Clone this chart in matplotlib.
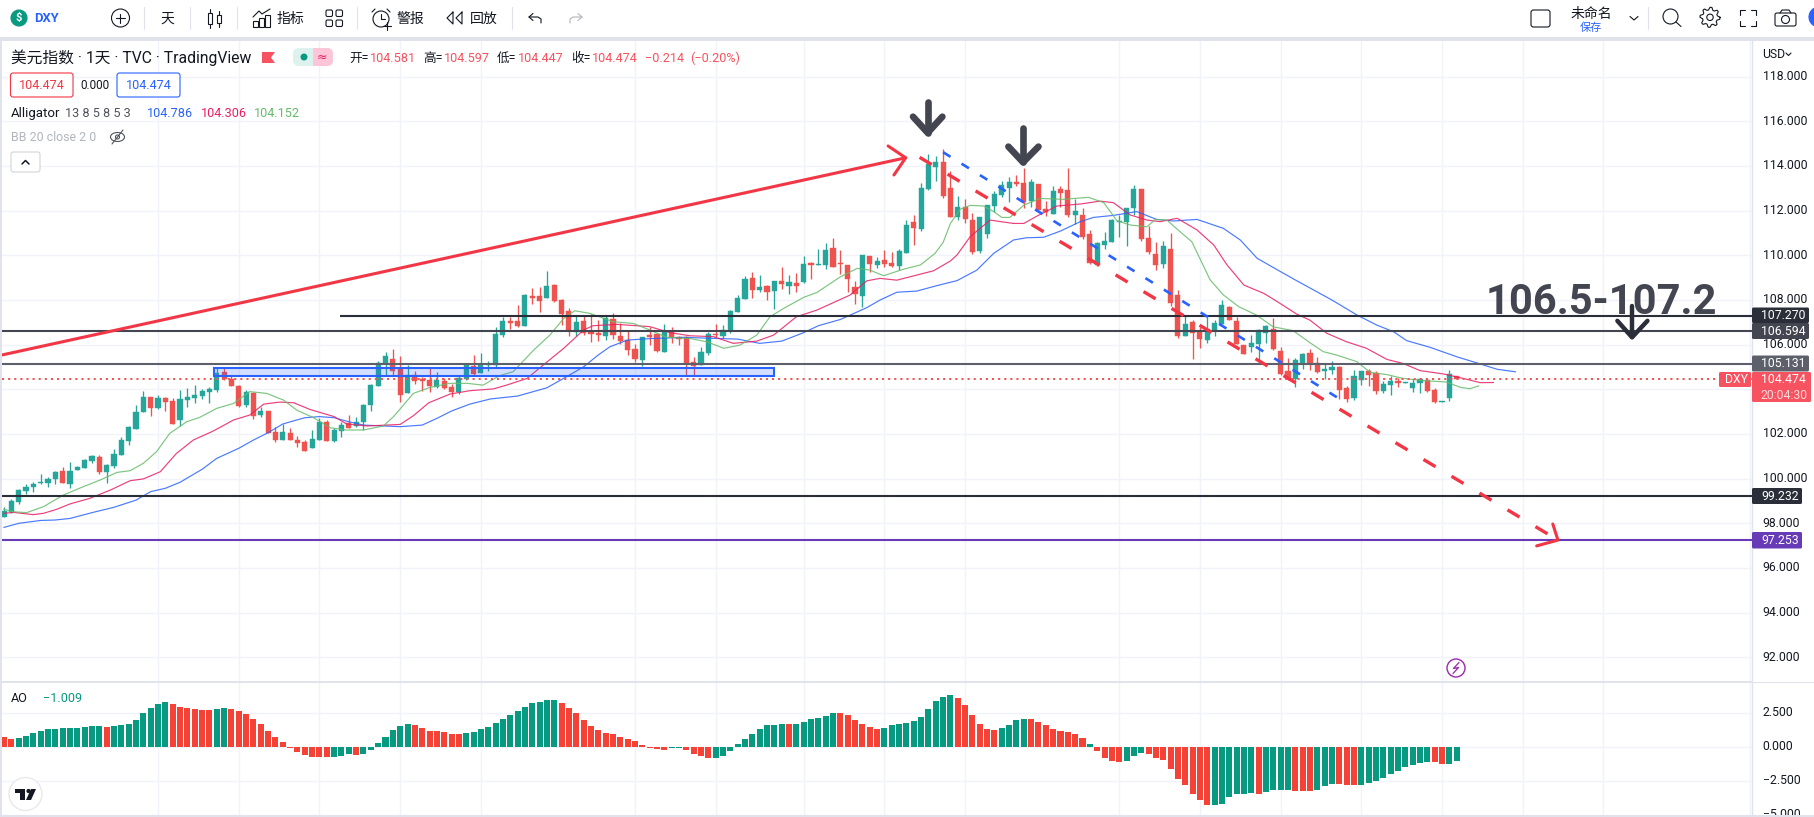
import numpy as np
import matplotlib
matplotlib.use('Agg')
import matplotlib.pyplot as plt
from matplotlib.patches import Circle, Ellipse, FancyBboxPatch, Polygon, Rectangle
from matplotlib.transforms import ScaledTranslation

plt.rcParams['font.family'] = ['Roboto', 'Noto Sans CJK SC', 'DejaVu Sans']
plt.rcParams['lines.scale_dashes'] = False

# daily DXY candles, oldest first
opens = [
    98.30, 98.49, 98.97, 99.46, 99.64, 99.81, 99.81, 99.99, 100.33, 99.76,
    100.40, 100.49, 100.79, 100.97, 100.31, 100.58, 101.07, 101.70, 102.24, 103.00,
    103.66, 103.18, 103.61, 103.48, 102.64, 103.54, 103.61, 103.70, 103.90, 103.97,
    104.78, 104.46, 104.15, 103.30, 103.84, 102.85, 103.03, 102.09, 101.73, 102.03,
    101.73, 101.64, 101.37, 101.73, 102.54, 101.69, 102.13, 102.48, 102.36, 102.54,
    103.30, 104.15, 105.13, 105.36, 104.91, 103.84, 104.64, 104.48, 104.42, 104.12,
    104.37, 104.12, 103.88, 104.46, 105.04, 104.73, 105.07, 105.09, 106.43, 107.06,
    107.06, 106.83, 108.18, 108.18, 108.09, 108.67, 108.00, 107.51, 106.57, 107.06,
    106.57, 106.52, 106.39, 107.15, 106.39, 106.21, 105.81, 105.31, 106.43, 106.48,
    105.67, 106.61, 106.34, 106.34, 105.22, 105.09, 105.63, 106.48, 106.39, 106.61,
    107.46, 108.04, 108.98, 108.45, 108.63, 108.40, 108.85, 108.63, 108.76, 108.81,
    109.66, 109.57, 109.57, 110.33, 109.64, 109.57, 108.58, 108.18, 109.97, 109.57,
    109.79, 109.66, 109.52, 110.11, 111.49, 111.18, 112.97, 113.96, 114.18, 113.02,
    111.72, 112.17, 111.58, 110.20, 110.96, 112.21, 112.70, 113.02, 113.28, 113.24,
    112.43, 113.19, 112.07, 111.85, 112.97, 112.93, 111.81, 111.81, 110.96, 109.57,
    110.46, 110.60, 111.49, 111.49, 112.12, 112.97, 110.78, 110.06, 109.61, 110.28,
    108.22, 106.39, 107.02, 106.61, 106.21, 106.66, 106.93, 107.69, 107.06, 105.99,
    105.90, 106.03, 106.52, 106.70, 105.72, 104.82, 104.46, 105.13, 105.63, 105.18,
    104.82, 104.87, 105.00, 104.06, 103.61, 104.42, 104.82, 104.73, 103.93, 104.19,
    104.37, 104.30, 104.06, 104.28, 104.42, 103.97, 103.45, 103.61, 104.581,
]
highs = [
    98.72, 99.07, 99.52, 99.76, 99.85, 100.21, 100.09, 100.36, 100.51, 100.75,
    100.57, 100.90, 101.04, 101.06, 100.66, 101.33, 101.85, 102.36, 103.30, 103.93,
    103.66, 103.75, 103.64, 103.60, 103.97, 104.04, 104.19, 104.00, 104.10, 104.94,
    105.01, 104.64, 104.19, 103.97, 103.88, 103.22, 103.03, 102.33, 102.43, 102.27,
    101.91, 101.73, 102.18, 102.72, 102.63, 102.25, 102.54, 102.85, 102.76, 103.34,
    104.22, 105.27, 105.67, 105.81, 105.49, 105.09, 104.82, 104.54, 104.96, 104.78,
    104.51, 104.24, 104.60, 105.13, 105.54, 105.63, 105.27, 106.78, 107.25, 107.25,
    107.78, 108.27, 108.54, 108.58, 109.30, 108.72, 108.03, 107.64, 107.28, 107.33,
    107.37, 107.10, 107.28, 107.42, 106.97, 106.66, 106.03, 106.34, 106.79, 106.52,
    106.92, 106.79, 106.39, 106.39, 105.45, 105.90, 106.58, 106.92, 106.88, 107.55,
    108.22, 109.07, 109.25, 109.12, 108.67, 108.85, 109.48, 109.12, 109.21, 109.97,
    109.70, 110.29, 110.55, 110.78, 110.24, 109.57, 108.84, 110.02, 109.97, 109.93,
    110.24, 110.15, 110.29, 111.58, 111.81, 113.23, 114.54, 114.45, 114.76, 113.78,
    112.66, 112.52, 111.90, 111.72, 112.26, 112.88, 113.33, 113.51, 113.60, 113.91,
    113.42, 113.19, 112.43, 113.11, 113.11, 113.91, 112.52, 112.12, 111.14, 110.60,
    111.05, 111.63, 111.81, 112.12, 113.15, 112.97, 111.31, 110.60, 110.64, 111.00,
    108.45, 107.28, 107.11, 106.79, 107.24, 107.11, 108.00, 107.73, 107.24, 105.99,
    106.43, 106.70, 106.88, 107.19, 105.90, 105.40, 105.40, 105.63, 105.81, 105.45,
    105.13, 105.27, 105.04, 104.15, 104.87, 104.82, 104.91, 104.82, 104.37, 104.60,
    104.51, 104.33, 104.46, 104.51, 104.46, 104.06, 103.48, 104.87, 104.597,
]
lows = [
    98.30, 98.45, 98.87, 99.31, 99.42, 99.76, 99.64, 99.76, 99.82, 99.60,
    100.39, 100.46, 100.72, 100.21, 99.82, 100.49, 101.07, 101.51, 102.24, 103.00,
    102.82, 103.13, 103.03, 102.46, 102.36, 103.22, 103.37, 103.58, 103.40, 103.90,
    104.42, 104.15, 103.22, 103.22, 102.69, 102.75, 102.03, 101.64, 101.73, 101.73,
    101.42, 101.24, 101.37, 101.73, 101.69, 101.64, 101.88, 102.27, 102.33, 102.18,
    103.04, 104.15, 104.64, 104.64, 103.45, 103.84, 104.24, 103.94, 103.88, 104.06,
    104.00, 103.67, 103.79, 104.42, 104.64, 104.73, 104.84, 105.01, 106.34, 106.70,
    106.79, 106.83, 107.82, 107.46, 108.09, 107.91, 106.88, 106.39, 106.39, 106.43,
    106.12, 106.16, 106.21, 106.25, 106.03, 105.54, 105.22, 105.04, 105.98, 105.67,
    105.67, 106.07, 105.98, 104.64, 104.64, 105.09, 105.54, 106.34, 106.30, 106.52,
    107.46, 108.04, 108.09, 108.36, 108.00, 107.60, 108.49, 108.27, 108.36, 108.76,
    108.94, 109.57, 109.39, 109.48, 109.17, 108.36, 107.82, 107.69, 109.26, 109.43,
    109.48, 109.48, 109.35, 110.11, 110.46, 111.09, 112.93, 113.33, 112.57, 111.72,
    111.58, 111.45, 110.06, 110.11, 110.78, 111.94, 112.61, 112.39, 113.11, 112.12,
    112.16, 111.99, 111.76, 111.85, 112.16, 111.72, 111.40, 110.73, 109.61, 109.52,
    110.28, 110.60, 110.82, 110.42, 111.81, 110.64, 110.06, 109.34, 109.43, 107.73,
    106.30, 106.39, 105.36, 105.85, 106.08, 106.39, 106.93, 107.11, 106.03, 105.58,
    105.67, 105.31, 106.07, 105.76, 104.64, 104.42, 104.10, 104.91, 104.87, 104.73,
    104.46, 104.69, 103.57, 103.43, 103.52, 104.19, 104.15, 103.79, 103.84, 103.75,
    104.10, 104.30, 103.88, 103.84, 103.88, 103.39, 103.45, 103.48, 104.447,
]
closes = [
    98.55, 99.00, 99.49, 99.61, 99.76, 99.84, 99.99, 100.30, 99.82, 100.34,
    100.52, 100.84, 101.01, 100.31, 100.61, 101.10, 101.73, 102.31, 102.99, 103.66,
    103.18, 103.61, 103.45, 102.46, 103.57, 103.66, 103.75, 103.93, 104.01, 104.72,
    104.45, 104.16, 103.25, 103.88, 102.82, 103.03, 102.06, 101.73, 102.09, 101.73,
    101.60, 101.24, 101.78, 102.54, 101.69, 102.18, 102.40, 102.27, 102.54, 103.30,
    104.19, 105.16, 105.49, 104.82, 103.75, 104.64, 104.37, 104.37, 104.15, 104.42,
    104.06, 103.88, 104.49, 105.09, 104.69, 105.13, 105.10, 106.48, 107.06, 106.98,
    106.83, 108.22, 108.09, 107.95, 108.63, 107.95, 107.37, 106.66, 107.01, 106.52,
    106.48, 106.43, 107.19, 106.43, 106.16, 105.76, 105.36, 106.34, 106.34, 105.72,
    106.57, 106.34, 106.25, 105.13, 105.04, 105.67, 106.48, 106.43, 106.66, 107.51,
    108.09, 108.94, 108.45, 108.58, 108.36, 108.85, 108.72, 108.80, 108.63, 109.61,
    109.57, 109.61, 110.24, 109.48, 109.61, 108.94, 108.27, 110.02, 109.61, 109.75,
    109.61, 109.52, 110.20, 111.36, 111.23, 113.02, 114.09, 114.18, 112.66, 111.72,
    112.17, 111.63, 110.15, 111.72, 112.26, 112.75, 113.15, 113.28, 113.19, 112.39,
    113.28, 112.03, 111.94, 112.88, 112.79, 111.81, 111.99, 110.82, 109.66, 110.55,
    110.64, 111.58, 111.54, 112.12, 112.97, 110.73, 110.15, 109.57, 110.42, 107.87,
    106.39, 106.93, 106.52, 106.25, 106.70, 106.97, 107.78, 107.11, 106.03, 105.58,
    106.07, 106.66, 106.84, 105.81, 104.69, 104.46, 105.31, 105.58, 105.13, 104.78,
    104.91, 105.00, 103.97, 103.57, 104.60, 104.82, 104.64, 103.93, 104.24, 104.37,
    104.30, 104.33, 104.28, 104.46, 103.93, 103.45, 103.48, 104.69, 104.474,
]

# Alligator lines, sampled along the bar index (they run past the last bar)
jaw_bars = [0, 2, 5, 7, 9, 12, 15, 18, 20, 22, 24, 27, 29, 32, 34, 36, 38, 41, 43, 45, 47, 49, 54, 57, 59, 61,
            63.5, 66.3, 70, 74, 76.7, 79, 81, 82.6, 85, 88, 92.6, 97, 100, 103, 106, 109, 111, 114, 117.6, 119.4,
            121.7, 124.4, 127.1, 129.9, 132.6, 134.9, 137.6, 139.4, 141.7, 144, 146.7, 148.5, 151.2, 154.4, 157.1,
            159.4, 162.6, 166.2, 168.5, 170.8, 174, 176, 181, 184.4, 187.1, 189.4, 191.2, 194.4, 198, 200.7, 203.5, 206]
jaw_vals = [97.82, 98.00, 98.13, 98.15, 98.22, 98.48, 98.72, 99.04, 99.42, 99.57, 99.84, 100.42, 100.91, 101.36,
            101.73, 102.06, 102.45, 102.73, 102.78, 102.73, 102.55, 102.40, 102.33, 102.40, 102.70, 103.03,
            103.34, 103.57, 103.70, 104.07, 104.57, 105.01, 105.54, 105.91, 106.21, 106.27, 106.33, 106.28, 106.25,
            106.06, 106.16, 106.54, 106.85, 107.13, 107.66, 108.00, 108.35, 108.40, 108.64, 108.87, 109.34, 110.09,
            110.69, 110.79, 110.81, 111.09, 111.51, 111.70, 111.79, 111.96, 111.61, 111.54, 111.61, 111.21, 110.69,
            109.87, 109.27, 108.90, 108.00, 107.33, 106.88, 106.58, 106.18, 105.88, 105.46, 105.19, 104.90, 104.786]
teeth_bars = [0, 1.3, 4, 5.4, 7.2, 9, 11.7, 14.5, 17.2, 19, 21.3, 23.5, 25.8, 28.5, 31.3, 33.5, 35.4, 37.6, 39.5, 41.7,
              45, 46.7, 49.5, 54, 55.8, 57.9, 60.8, 63.5, 66.7, 68.5, 71.3, 73.5, 76.3, 79, 80.3, 83.5, 88, 90.8,
              93.5, 96.7, 99.4, 102.6, 104.9, 108, 110.8, 115.3, 117.6, 119.4, 121.7, 126.7, 129, 129.9, 131.7,
              134.4, 137.6, 139, 140.8, 143.5, 146.7, 149.4, 151.2, 153.5, 155.8, 157.6, 159.9, 162.6, 164.9, 166.7,
              169, 171.7, 173.2, 176.2, 178, 180.3, 183, 185.7, 188.5, 190.7, 193, 196.2, 198.9, 201.2, 203]
teeth_vals = [98.45, 98.49, 98.39, 98.45, 98.63, 98.87, 99.12, 99.49, 99.91, 99.99, 100.31, 101.13, 101.73, 102.13,
              102.63, 102.85, 103.34, 103.43, 103.40, 103.10, 102.78, 102.45, 102.36, 102.43, 102.82, 103.40, 103.79,
              103.94, 104.02, 104.19, 104.49, 105.09, 105.84, 106.66, 106.85, 106.91, 106.81, 106.54, 106.40, 106.36,
              106.06, 106.16, 106.43, 107.25, 107.55, 108.22, 108.86, 108.97, 108.89, 109.31, 109.75, 110.02, 110.84,
              111.58, 111.43, 111.43, 111.76, 112.21, 112.30, 112.43, 112.36, 111.81, 111.58, 111.51, 111.66, 111.14,
              110.46, 109.57, 108.67, 108.30, 108.00, 107.37, 107.10, 106.51, 106.13, 105.84, 105.34, 105.16, 104.84,
              104.69, 104.49, 104.30, 104.306]
lips_bars = [0, 1.3, 3.1, 5.4, 8.1, 10.8, 13.1, 15.4, 17.2, 19, 20.8, 22.6, 24.9, 26.7, 29, 31.3, 33.5, 35.8, 38.1,
             39.9, 42.2, 44.5, 46.7, 49, 51.7, 53.1, 55.8, 58.1, 60.8, 63.1, 65.3, 67.6, 69.4, 72.2, 74.4, 76.3, 77.8,
             79.9, 83, 85.8, 88, 90.3, 93.5, 95.8, 98.1, 100.3, 102.6, 104.4, 106.3, 109, 110.8, 114, 116.3, 118,
             119.9, 122.6, 124.9, 126.9, 128, 129, 130.3, 131.7, 133.5, 134.9, 136, 137.1, 139, 141.2, 144.4, 147.8,
             149.9, 151.7, 153.5, 155.8, 156.9, 158.5, 160.3, 161.9, 164.4, 166.2, 168.3, 170.7, 173, 175.7, 178,
             179.8, 181.6, 184.4, 186.2, 188.5, 190.7, 193.5, 196.6, 198.5, 199.8, 201]
lips_vals = [98.63, 98.52, 98.48, 98.75, 99.27, 99.64, 99.94, 100.28, 100.36, 100.69, 101.21, 102.03, 102.55, 102.75,
             103.15, 103.37, 103.90, 103.82, 103.52, 103.07, 102.73, 102.28, 102.18, 102.18, 102.36, 102.78, 103.82,
             104.09, 104.27, 104.27, 104.19, 104.62, 104.79, 105.76, 106.43, 107.18, 107.52, 107.40, 107.03, 106.95,
             106.66, 106.33, 106.28, 106.13, 105.84, 105.98, 106.43, 107.25, 107.63, 108.12, 108.34, 109.04, 109.42,
             109.34, 109.09, 109.38, 109.57, 110.09, 110.58, 111.43, 112.06, 112.24, 112.21, 111.96, 111.70, 111.70,
             112.25, 112.55, 112.51, 112.60, 112.36, 111.55, 111.36, 111.28, 111.61, 111.58, 111.06, 110.61, 108.90,
             108.23, 107.70, 107.33, 106.80, 106.63, 106.09, 105.69, 105.54, 105.24, 104.76, 104.66, 104.49, 104.39,
             104.33, 104.09, 104.03, 104.152]

# Awesome Oscillator histogram
ao_values = [
    0.74, 0.59, 0.66, 0.81, 1.03, 1.18, 1.32, 1.32, 1.40, 1.40,
    1.40, 1.47, 1.54, 1.54, 1.47, 1.54, 1.62, 1.69, 1.99, 2.50,
    2.87, 3.16, 3.31, 3.16, 2.94, 2.87, 2.79, 2.72, 2.72, 2.79,
    2.87, 2.79, 2.65, 2.43, 2.06, 1.69, 1.18, 0.74, 0.37, -0.07,
    -0.37, -0.59, -0.74, -0.74, -0.74, -0.74, -0.66, -0.51, -0.59, -0.51,
    -0.22, 0.29, 0.74, 1.25, 1.54, 1.69, 1.62, 1.40, 1.18, 1.18,
    1.10, 0.96, 0.96, 1.03, 1.10, 1.32, 1.47, 1.76, 2.06, 2.35,
    2.65, 2.94, 3.24, 3.31, 3.46, 3.46, 3.24, 2.87, 2.50, 1.99,
    1.54, 1.25, 1.03, 0.96, 0.74, 0.59, 0.44, 0.15, -0.07, -0.15,
    -0.22, -0.07, -0.07, -0.22, -0.51, -0.66, -0.81, -0.81, -0.66, -0.29,
    0.22, 0.59, 0.96, 1.32, 1.62, 1.62, 1.69, 1.69, 1.69, 1.84,
    2.06, 2.13, 2.28, 2.50, 2.50, 2.35, 1.99, 1.69, 1.47, 1.32,
    1.40, 1.62, 1.69, 1.76, 1.91, 2.21, 2.79, 3.38, 3.68, 3.82,
    3.60, 3.09, 2.35, 1.69, 1.32, 1.27, 1.40, 1.62, 1.99, 2.08,
    2.08, 1.86, 1.59, 1.35, 1.15, 1.08, 0.93, 0.69, 0.25, -0.29,
    -0.81, -1.05, -1.13, -1.05, -0.64, -0.47, -0.54, -0.78, -0.98, -1.59,
    -2.33, -2.82, -3.43, -3.92, -4.29, -4.29, -4.17, -3.68, -3.48, -3.48,
    -3.38, -3.48, -3.33, -3.19, -3.19, -3.19, -3.24, -3.24, -3.24, -3.14,
    -2.89, -2.74, -2.70, -2.82, -2.82, -2.82, -2.65, -2.50, -2.25, -2.01,
    -1.79, -1.47, -1.32, -1.18, -1.13, -1.13, -1.27, -1.22, -1.009,
]
ao_signs = ("rrgggggggg" "ggggrggggg" "gggrrrrrrg" "grrrrrrrrr" "rrrrrgggrg"
            "ggggggrrrr" "rrrggggggg" "ggggggrrrr" "rrrrrrrrrr" "rggrrrrggg"
            "gggggggrgg" "ggggrrrrrr" "gggggggggg" "rrrrrrgggg" "rrrrrrrrgr"
            "rrrgggrrrr" "rrrrrggggg" "grggggrrrg" "ggrrrggggg" "gggggrrgg")

price_ticks = [92, 94, 96, 98, 100, 102, 104, 106, 108, 110, 112, 114, 116, 118]
ao_ticks = [-5, -2.5, 0, 2.5]
grid_bars = [21, 32, 43, 54, 65, 86, 97, 109, 120, 131, 152, 163, 174, 185, 196, 207, 218, 238]

# horizontal levels: price, first bar, colour
levels = [(107.270, 45.8, '#2a2e39'), (106.594, -1, '#434651'), (105.131, -1, '#5d606b'),
          (99.232, -1, '#2a2e39'), (97.253, -1, '#673ab7')]
last_price = 104.474

W, H = 1815, 817
BULL, BEAR = '#26a69a', '#ef5350'
AO_UP, AO_DOWN = '#089981', '#f44336'
DARK = '#131722'
GRID = '#f0f3fa'


def box(left, top, right, bottom):
    return [left / W, 1 - bottom / H, (right - left) / W, (bottom - top) / H]


fig = plt.figure(figsize=(W / 100, H / 100), dpi=100, facecolor='white')
ax = fig.add_axes(box(2, 41, 1752, 681))
ao = fig.add_axes(box(2, 682, 1752, 815))
ui = fig.add_axes([0, 0, 1, 1], zorder=10)
ui.set_xlim(0, W)
ui.set_ylim(H, 0)
ui.axis('off')
ui.patch.set_alpha(0)

x_range = (-0.27, 238.25)
ax.set_xlim(*x_range)
ax.set_ylim(90.94, 119.60)
ao.set_xlim(*x_range)
ao.set_ylim(-5.0, 4.78)


def price_y(p):
    return 76.7 + (118 - p) * 22.33


# tick labels sit a little above their grid lines
lift = ScaledTranslation(0, 1.2 / 72, fig.dpi_scale_trans)
for a, ticks in ((ax, price_ticks), (ao, ao_ticks)):
    a.set_xticks(grid_bars)
    a.set_yticks(ticks)
    a.grid(True, color=GRID, lw=1.0)
    a.set_axisbelow(True)
    a.yaxis.tick_right()
    a.tick_params(axis='x', length=0, labelbottom=False)
    a.tick_params(axis='y', length=0, pad=7.6, labelsize=8.8, labelcolor=DARK)
    for name in ('top', 'left', 'bottom'):
        a.spines[name].set_visible(False)
    a.spines['right'].set_color('#e0e3eb')
    a.spines['right'].set_linewidth(1.0)
ax.set_yticklabels(['' if t == 104 else '%.3f' % t for t in price_ticks])
ao.set_yticklabels(['\u2212%.3f' % abs(t) if t < 0 else '%.3f' % t for t in ao_ticks])
for a in (ax, ao):
    for tick_label in a.get_yticklabels():
        tick_label.set_transform(tick_label.get_transform() + lift)

# candles
bars = np.arange(len(opens))
o, h, l, c = map(np.array, (opens, highs, lows, closes))
colors = [BULL if cc >= oo else BEAR for oo, cc in zip(o, c)]
ax.vlines(bars, l, h, colors=colors, lw=0.95, zorder=3)
ax.bar(bars, np.abs(c - o), bottom=np.minimum(o, c), width=0.7, color=colors, edgecolor=colors, lw=0.3, zorder=3)

# alligator
ax.plot(jaw_bars, jaw_vals, color='#2962ff', lw=0.85, alpha=0.85, zorder=4)
ax.plot(teeth_bars, teeth_vals, color='#e91e63', lw=0.85, alpha=0.85, zorder=4)
ax.plot(lips_bars, lips_vals, color='#66bb6a', lw=0.85, alpha=0.85, zorder=4)

# levels and last price
for price, start, color in levels:
    ax.plot([start, x_range[1]], [price, price], color=color, lw=1.5, zorder=5, solid_capstyle='butt')
ax.axhline(last_price, color=BEAR, lw=1.4, zorder=5, dashes=(1.5, 2.9))

# support zone
ax.add_patch(Rectangle((28.6, 104.58), 76.4, 0.375, facecolor='#2962ff', alpha=0.2, lw=0, zorder=5))
ax.add_patch(Rectangle((28.6, 104.58), 76.4, 0.375, fill=False, edgecolor='#2962ff', lw=1.5, zorder=5))

# trend drawings
RED = '#f23645'
ax.plot([-0.27, 122.9], [105.54, 114.37], color=RED, lw=2.2, zorder=6, solid_capstyle='round')
ax.plot([120.5, 122.9, 121.3], [114.90, 114.37, 113.60], color=RED, lw=2.2, zorder=6, solid_capstyle='round')
ax.plot([124.8, 211.8], [114.39, 97.25], color=RED, lw=2.4, zorder=6, dashes=(10.1, 13.4), dash_capstyle='butt')
ax.plot([211.1, 211.8, 208.9], [97.97, 97.25, 96.99], color=RED, lw=2.2, zorder=6, solid_capstyle='round')
ax.plot([128, 182], [114.62, 103.58], color='#2962ff', lw=1.9, zorder=6, dashes=(6.3, 9.3), dash_capstyle='butt')

# pointers above the tops and under the target zone
for top, tip, bar, left, right, wing, width, color in (
        (116.88, 115.49, 125.9, 123.9, 127.9, 116.21, 4.8, '#434651'),
        (115.70, 114.17, 138.9, 136.9, 141.0, 114.87, 4.8, '#434651'),
        (107.73, 106.33, 221.9, 219.9, 224.0, 107.07, 3.2, '#2a2e39')):
    ax.plot([bar, bar], [top, tip], color=color, lw=width, zorder=7, solid_capstyle='round')
    ax.plot([left, bar, right], [wing, tip, wing], color=color, lw=width, zorder=7,
            solid_capstyle='round', solid_joinstyle='round')

ax.text(202, 107.37, '106.5-107.2', fontsize=30, color='#434651', fontweight='bold', va='baseline', zorder=6)

# oscillator
ao.bar(np.arange(len(ao_values)), ao_values, width=0.82,
       color=[AO_UP if s == 'g' else AO_DOWN for s in ao_signs], lw=0, zorder=3)


# ---- interface around the chart, in pixel coordinates ----
def label(x, y, text, color=DARK, size=9.1, ha='left', va='center', **kw):
    return ui.text(x, y, text, color=color, fontsize=size, ha=ha, va=va, **kw)


def stroke(xs, ys, color=DARK, lw=0.8, **kw):
    ui.plot(xs, ys, color=color, lw=lw, solid_capstyle='round', **kw)


def ring(x, y, r, color=DARK, lw=0.8, fill='none'):
    ui.add_patch(Circle((x, y), r, facecolor=fill, edgecolor=color, lw=lw))


def rounded(x0, y0, x1, y1, color=DARK, lw=0.8, fill='none', rad=2.5):
    ui.add_patch(FancyBboxPatch((x0, y0), x1 - x0, y1 - y0, boxstyle='round,pad=0,rounding_size=%g' % rad,
                                facecolor=fill, edgecolor=color, lw=lw))


# frame strips
ui.add_patch(Rectangle((0, 37), W, 4, color='#e0e3eb', lw=0))
ui.add_patch(Rectangle((0, 37), 2, H - 37, color='#e0e3eb', lw=0))
ui.add_patch(Rectangle((0, 815), W, 2, color='#e0e3eb', lw=0))
stroke([2, 1752], [681.5, 681.5], color='#e0e3eb', lw=1.4)
stroke([1752, W], [681.5, 681.5], color='#e0e3eb', lw=0.8)

# price badges
for top, bottom, right, color, text in (
        (307.5, 323, 1809, '#2a2e39', '107.270'), (323, 339, 1809, '#434651', '106.594'),
        (355.5, 371.5, 1809, '#5d606b', '105.131'), (488, 504, 1802, '#2a2e39', '99.232'),
        (532, 548.5, 1802, '#673ab7', '97.253')):
    rounded(1752, top, right, bottom, fill=color, color=color, lw=0, rad=1.5)
    label(1761, (top + bottom) / 2, text, color='white', size=8.8)
rounded(1752, 372, 1811, 402, fill='#f7525f', color='#f7525f', lw=0, rad=1.5)
label(1761, price_y(last_price) + 1, '104.474', color='white', size=8.8)
label(1761, 395, '20:04:30', color='#ffd9dc', size=8.8)
rounded(1719, 372, 1751, 387, fill='#f7525f', color='#f7525f', lw=0, rad=1.5)
label(1725, 379.5, 'DXY', color='white', size=8.8)
label(1762, 54, 'USD', size=8.8)
stroke([1786, 1788.5, 1791], [53, 55.5, 53], lw=0.8)

# toolbar, left side
ring(19, 18, 8, color='#089981', fill='#089981')
label(19, 18, '$', color='white', size=8, ha='center', fontweight='bold')
label(34, 18, 'DXY', color='#2962ff', size=9.4, fontweight='bold')
ring(120.5, 18, 9)
stroke([116, 125], [18, 18])
stroke([120.5, 120.5], [13.5, 22.5])
for sep in (144, 190, 237, 357, 512, 1648):
    stroke([sep, sep], [7, 29], color='#e0e3eb', lw=0.8)
label(167, 18.5, '天', size=10, ha='center')

# candle icon
ui.add_patch(Rectangle((208.5, 13), 4, 11, fill=False, edgecolor=DARK, lw=0.8))
ui.add_patch(Rectangle((217.5, 15), 4, 8, fill=False, edgecolor=DARK, lw=0.8))
stroke([210.5, 210.5], [9, 13])
stroke([210.5, 210.5], [24, 28])
stroke([219.5, 219.5], [11, 15])
stroke([219.5, 219.5], [23, 27])

# indicators icon
stroke([253, 259, 262, 270], [17, 11, 14, 9])
for x0, y0 in ((253, 21), (259, 18), (265, 15)):
    ui.add_patch(Rectangle((x0, y0), 5, 27 - y0, fill=False, edgecolor=DARK, lw=0.8))
label(277, 19, '指标', size=10, fontweight='medium')

# layouts icon
for x0, y0 in ((326, 10), (336, 10), (326, 20), (336, 20)):
    rounded(x0, y0, x0 + 6.5, y0 + 6.5, rad=1.5)

# alarm icon
ring(381, 19, 8)
stroke([381, 381, 385], [14, 19, 19])
stroke([372, 375], [12, 9])
stroke([387, 390], [9, 12])
stroke([387, 387], [22, 30])
stroke([383, 391], [26, 26])
label(397, 19, '警报', size=10, fontweight='medium')

# replay icon
stroke([453, 447, 453, 453], [12, 18, 24, 12])
stroke([462, 456, 462, 462], [12, 18, 24, 12])
label(470, 19, '回放', size=10, fontweight='medium')

# undo / redo
stroke([533, 529, 533], [13.5, 17, 20.5])
stroke([529, 538, 541, 541], [17, 17, 19, 23])
stroke([578, 582, 578], [13.5, 17, 20.5], color='#b2b5be')
stroke([582, 573, 570, 570], [17, 17, 19, 23], color='#b2b5be')

# toolbar, right side
rounded(1531, 10, 1550, 27)
label(1591, 14, '未命名', size=10, ha='center')
label(1591, 28, '保存', size=8, color='#2962ff', ha='center')
stroke([1630, 1634, 1638], [16.5, 20, 16.5])
ring(1670.5, 16.5, 7.5)
stroke([1676, 1681], [22, 26.5])

# gear
angles = np.linspace(0, 2 * np.pi, 33)
radii = np.where((np.arange(33) % 4) < 2, 10, 7.5)
ui.plot(1710 + radii * np.cos(angles), 17.3 + radii * np.sin(angles), color=DARK, lw=0.8)
ring(1710, 17.3, 3.2)

# fullscreen corners
for cx, cy, dx, dy in ((1740, 10, 1, 1), (1756, 10, -1, 1), (1740, 26, 1, -1), (1756, 26, -1, -1)):
    stroke([cx, cx, cx + 5 * dx], [cy + 5 * dy, cy, cy], lw=0.8)

# camera
rounded(1775, 13, 1796, 26, rad=2)
stroke([1780, 1782, 1789, 1791], [13, 10, 10, 13])
ring(1785.5, 19.5, 4)
ring(1819, 17, 10, color='#2962ff', fill='#2962ff')

# legend text
label(11, 58, '美元指数 · 1天 · TVC · TradingView', size=11.3)
ui.add_patch(Polygon([(262, 52), (275, 52), (271, 57.5), (275, 63), (262, 63)], color='#f7525f', lw=0))
rounded(293, 48, 333, 66, color='#ddf2ef', fill='#ddf2ef', rad=6, lw=0)
ui.add_patch(Rectangle((313, 48), 14, 18, color='#fcc6d8', lw=0))
rounded(318, 48, 333, 66, color='#fcc6d8', fill='#fcc6d8', rad=6, lw=0)
ring(304, 57, 3.5, color='#089981', fill='#089981', lw=0)
label(322, 57, '≈', size=9, ha='center', color='#e91e63', family=['DejaVu Sans'])

VAL = '#f7525f'
for x_name, x_val, name, val in ((349.5, 370, '开=', '104.581'), (423.5, 444, '高=', '104.597'),
                                 (497, 518, '低=', '104.447'), (571, 592, '收=', '104.474')):
    label(x_name, 58, name, size=9.1)
    label(x_val, 58, val, size=9.1, color=VAL)
label(645, 58, '\u22120.214', size=9.1, color=VAL)
label(690, 58, '(\u22120.20%)', size=9.1, color=VAL)

rounded(10.5, 73, 73, 97, color=RED, fill='white')
label(41.5, 85, '104.474', color=RED, ha='center')
label(95, 85, '0.000', size=8.4, ha='center')
rounded(117, 73, 180, 97, color='#2962ff', fill='white')
label(148.5, 85, '104.474', color='#2962ff', ha='center')

label(11, 113.5, 'Alligator', size=9.5)
label(65, 113.5, '13 8 5 8 5 3', size=9.1, color='#50535e')
label(147, 113.5, '104.786', size=9.1, color='#2962ff')
label(200.5, 113.5, '104.306', size=9.1, color='#e91e63')
label(253.5, 113.5, '104.152', size=9.1, color='#66bb6a')

label(11, 137.5, 'BB 20 close 2 0', size=8.9, color='#b2b5be')
ui.add_patch(Ellipse((117.5, 137), 14, 9, fill=False, edgecolor='#50535e', lw=0.8))
ring(117.5, 137, 2, color='#50535e')
stroke([112, 123], [144, 130], color='#50535e')
rounded(11, 152, 40, 172, color='#d1d4dc', fill='white')
stroke([22, 25.5, 29], [164, 160.5, 164], lw=1.1)

label(11, 699, 'AO', size=9.1)
label(43, 699, '\u22121.009', size=9.1, color='#089981')

# lightning badge
ring(1456, 668, 9, color='#9c27b0', lw=1.0)
stroke([1459, 1453.5, 1458.5, 1453], [662.5, 668.5, 667.5, 673.5], color='#9c27b0', lw=0.9)

# logo
ring(25.5, 794, 16.5, color='#e9e9ec', fill='white', lw=1)
ui.add_patch(Polygon([(15, 789), (25, 789), (25, 800), (20, 800), (20, 793), (15, 793)], color=DARK, lw=0))
ui.add_patch(Circle((28.5, 791), 2.1, color=DARK, lw=0))
ui.add_patch(Polygon([(31, 789), (36, 789), (31, 800), (26, 800)], color=DARK, lw=0))

fig.savefig('out.png', dpi=100, facecolor='white')
